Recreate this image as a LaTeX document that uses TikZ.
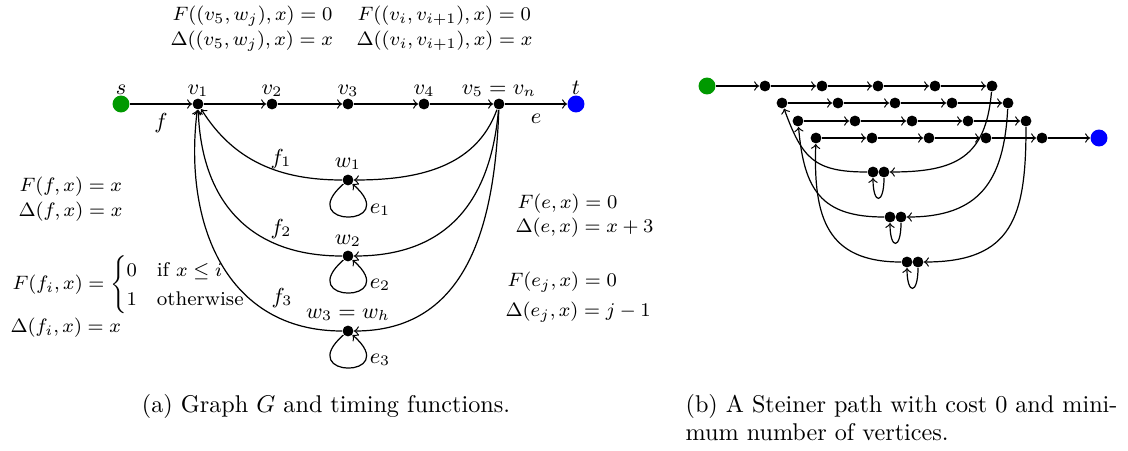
\documentclass[tikz,border=0pt]{standalone}
\usepackage{amsmath}
\begin{document}
\begin{tikzpicture}[x=0.4133pt,y=0.4133pt,line width=0.5pt,
  dot/.style={circle,fill=black,inner sep=0pt,minimum size=4.5pt},
  gdot/.style={circle,fill=green!60!black,inner sep=0pt,minimum size=7pt},
  bdot/.style={circle,fill=blue,inner sep=0pt,minimum size=7pt},
  nlab/.style={font=\fontsize{9}{11}\selectfont,inner sep=0pt,anchor=base},
  flab/.style={font=\fontsize{8.2}{10}\selectfont,inner sep=0pt,anchor=west},
  captxt/.style={font=\fontsize{10}{12}\selectfont,inner sep=0pt},
  arr/.style={->}]
\useasboundingbox (0,0) rectangle (1128,-450);

% ---------------- (a) ----------------
\node[gdot] (s) at (121,-104) {};
\node[dot] (v1) at (198,-104) {};
\node[dot] (v2) at (272,-104) {};
\node[dot] (v3) at (348,-104) {};
\node[dot] (v4) at (424,-104) {};
\node[dot] (v5) at (499,-104) {};
\node[bdot] (t) at (576,-104) {};
\node[dot] (w1) at (348,-180) {};
\node[dot] (w2) at (348,-256) {};
\node[dot] (w3) at (348,-331) {};

\node[nlab] (ls) at (121,-94) {$s$};
\node[nlab] (lv1) at (198,-94) {$v_1$};
\node[nlab] (lv2) at (272,-94) {$v_2$};
\node[nlab] (lv3) at (348,-94) {$v_3$};
\node[nlab] (lv4) at (424,-94) {$v_4$};
\node[nlab] (lv5) at (499,-94) {$v_5 = v_n$};
\node[nlab] (lt) at (576,-94) {$t$};
\node[nlab] (lw1) at (348,-167) {$w_1$};
\node[nlab] (lw2) at (348,-244) {$w_2$};
\node[nlab] (lw3) at (348,-318) {$w_3 = w_h$};
\node[nlab] (lf) at (161,-128) {$f$};
\node[nlab] (le) at (536,-123) {$e$};
\node[nlab] (lf1) at (281,-164) {$f_1$};
\node[nlab] (lf2) at (281,-234) {$f_2$};
\node[nlab] (lf3) at (282,-303) {$f_3$};
\node[nlab] (le1) at (380,-213) {$e_1$};
\node[nlab] (le2) at (380,-288) {$e_2$};
\node[nlab] (le3) at (380,-363) {$e_3$};

\draw[arr] (s) -- (v1);
\draw[arr] (v1) -- (v2);
\draw[arr] (v2) -- (v3);
\draw[arr] (v3) -- (v4);
\draw[arr] (v4) -- (v5);
\draw[arr] (v5) -- (t);

\draw[arr] (v5) to[out=-110,in=0] (w1);
\draw[arr] (v5) to[out=-95,in=0,looseness=1.15] (w2);
\draw[arr] (v5) to[out=-92,in=0,looseness=1.1] (w3);
\draw[arr] (w1) to[out=180,in=-58] (v1);
\draw[arr] (w2) to[out=180,in=-88,looseness=1.15] (v1);
\draw[arr] (w3) to[out=180,in=-97,looseness=1.12] (v1);

\draw[arr] (w1) .. controls +(-55,-48) and +(55,-48) .. (w1);
\draw[arr] (w2) .. controls +(-55,-48) and +(55,-48) .. (w2);
\draw[arr] (w3) .. controls +(-55,-48) and +(55,-48) .. (w3);

\node[flab] (t1) at (172,-16) {$F((v_5, w_j), x) = 0$};
\node[flab] (t2) at (170,-41) {$\Delta((v_5, w_j), x) = x$};
\node[flab] (t3) at (357,-16) {$F((v_i, v_{i+1}), x) = 0$};
\node[flab] (t4) at (356,-41) {$\Delta((v_i, v_{i+1}), x) = x$};
\node[flab] (t5) at (19,-187) {$F(f, x) = x$};
\node[flab] (t6) at (18,-212) {$\Delta(f, x) = x$};
\node[flab] (t7) at (12,-285) {$F(f_i, x) = \begin{cases} 0 & \text{if } x \le i\\ 1 & \text{otherwise}\end{cases}$};
\node[flab] (t8) at (10,-328) {$\Delta(f_i, x) = x$};
\node[flab] (t9) at (517,-204) {$F(e, x) = 0$};
\node[flab] (t10) at (515,-228) {$\Delta(e, x) = x + 3$};
\node[flab] (t11) at (507,-282) {$F(e_j, x) = 0$};
\node[flab] (t12) at (505,-312) {$\Delta(e_j, x) = j - 1$};

\node[captxt,anchor=base] (capa) at (326,-412) {(a) Graph $G$ and timing functions.};

% ---------------- (b) ----------------
\node[gdot] (g) at (707,-86) {};
\node[dot] (a1) at (765,-86) {};
\node[dot] (a2) at (822,-86) {};
\node[dot] (a3) at (878,-86) {};
\node[dot] (a4) at (935,-86) {};
\node[dot] (a5) at (992,-86) {};
\node[dot] (b1) at (782,-103) {};
\node[dot] (b2) at (838,-103) {};
\node[dot] (b3) at (895,-103) {};
\node[dot] (b4) at (952,-103) {};
\node[dot] (b5) at (1008,-103) {};
\node[dot] (c1) at (798,-121) {};
\node[dot] (c2) at (855,-121) {};
\node[dot] (c3) at (912,-121) {};
\node[dot] (c4) at (968,-121) {};
\node[dot] (c5) at (1026,-121) {};
\node[dot] (d1) at (816,-138) {};
\node[dot] (d2) at (872,-138) {};
\node[dot] (d3) at (929,-138) {};
\node[dot] (d4) at (986,-138) {};
\node[dot] (d5) at (1042,-138) {};
\node[bdot] (tt) at (1099,-138) {};
\node[dot] (p1a) at (873,-172) {};
\node[dot] (p1b) at (884,-172) {};
\node[dot] (p2a) at (890,-217) {};
\node[dot] (p2b) at (901,-217) {};
\node[dot] (p3a) at (907,-262) {};
\node[dot] (p3b) at (918,-262) {};

\draw[arr] (g) -- (a1);
\draw[arr] (a1) -- (a2);
\draw[arr] (a2) -- (a3);
\draw[arr] (a3) -- (a4);
\draw[arr] (a4) -- (a5);
\draw[arr] (b1) -- (b2);
\draw[arr] (b2) -- (b3);
\draw[arr] (b3) -- (b4);
\draw[arr] (b4) -- (b5);
\draw[arr] (c1) -- (c2);
\draw[arr] (c2) -- (c3);
\draw[arr] (c3) -- (c4);
\draw[arr] (c4) -- (c5);
\draw[arr] (d1) -- (d2);
\draw[arr] (d2) -- (d3);
\draw[arr] (d3) -- (d4);
\draw[arr] (d4) -- (d5);
\draw[arr] (d5) -- (tt);

\draw[arr] (a5) to[out=-95,in=0,looseness=1.3] (p1b);
\draw[arr] (b5) to[out=-93,in=0,looseness=1.25] (p2b);
\draw[arr] (c5) to[out=-90,in=0,looseness=1.35] (p3b);
\draw[arr] (p1a) to[out=180,in=-70,looseness=1.3] (b1);
\draw[arr] (p2a) to[out=180,in=-85,looseness=1.3] (c1);
\draw[arr] (p3a) to[out=180,in=-92,looseness=1.3] (d1);
\draw[arr] (p1b) .. controls +(0,-33) and +(0,-33) .. (p1a);
\draw[arr] (p2b) .. controls +(0,-33) and +(0,-33) .. (p2a);
\draw[arr] (p3b) .. controls +(0,-33) and +(0,-33) .. (p3a);

\node[captxt,anchor=base west] (capb) at (685,-412) {\hbox to 178.5pt{(b) A Steiner path with cost 0 and mini-}};
\node[captxt,anchor=base west] (capb2) at (685,-440) {mum number of vertices.};
\end{tikzpicture}
\end{document}
